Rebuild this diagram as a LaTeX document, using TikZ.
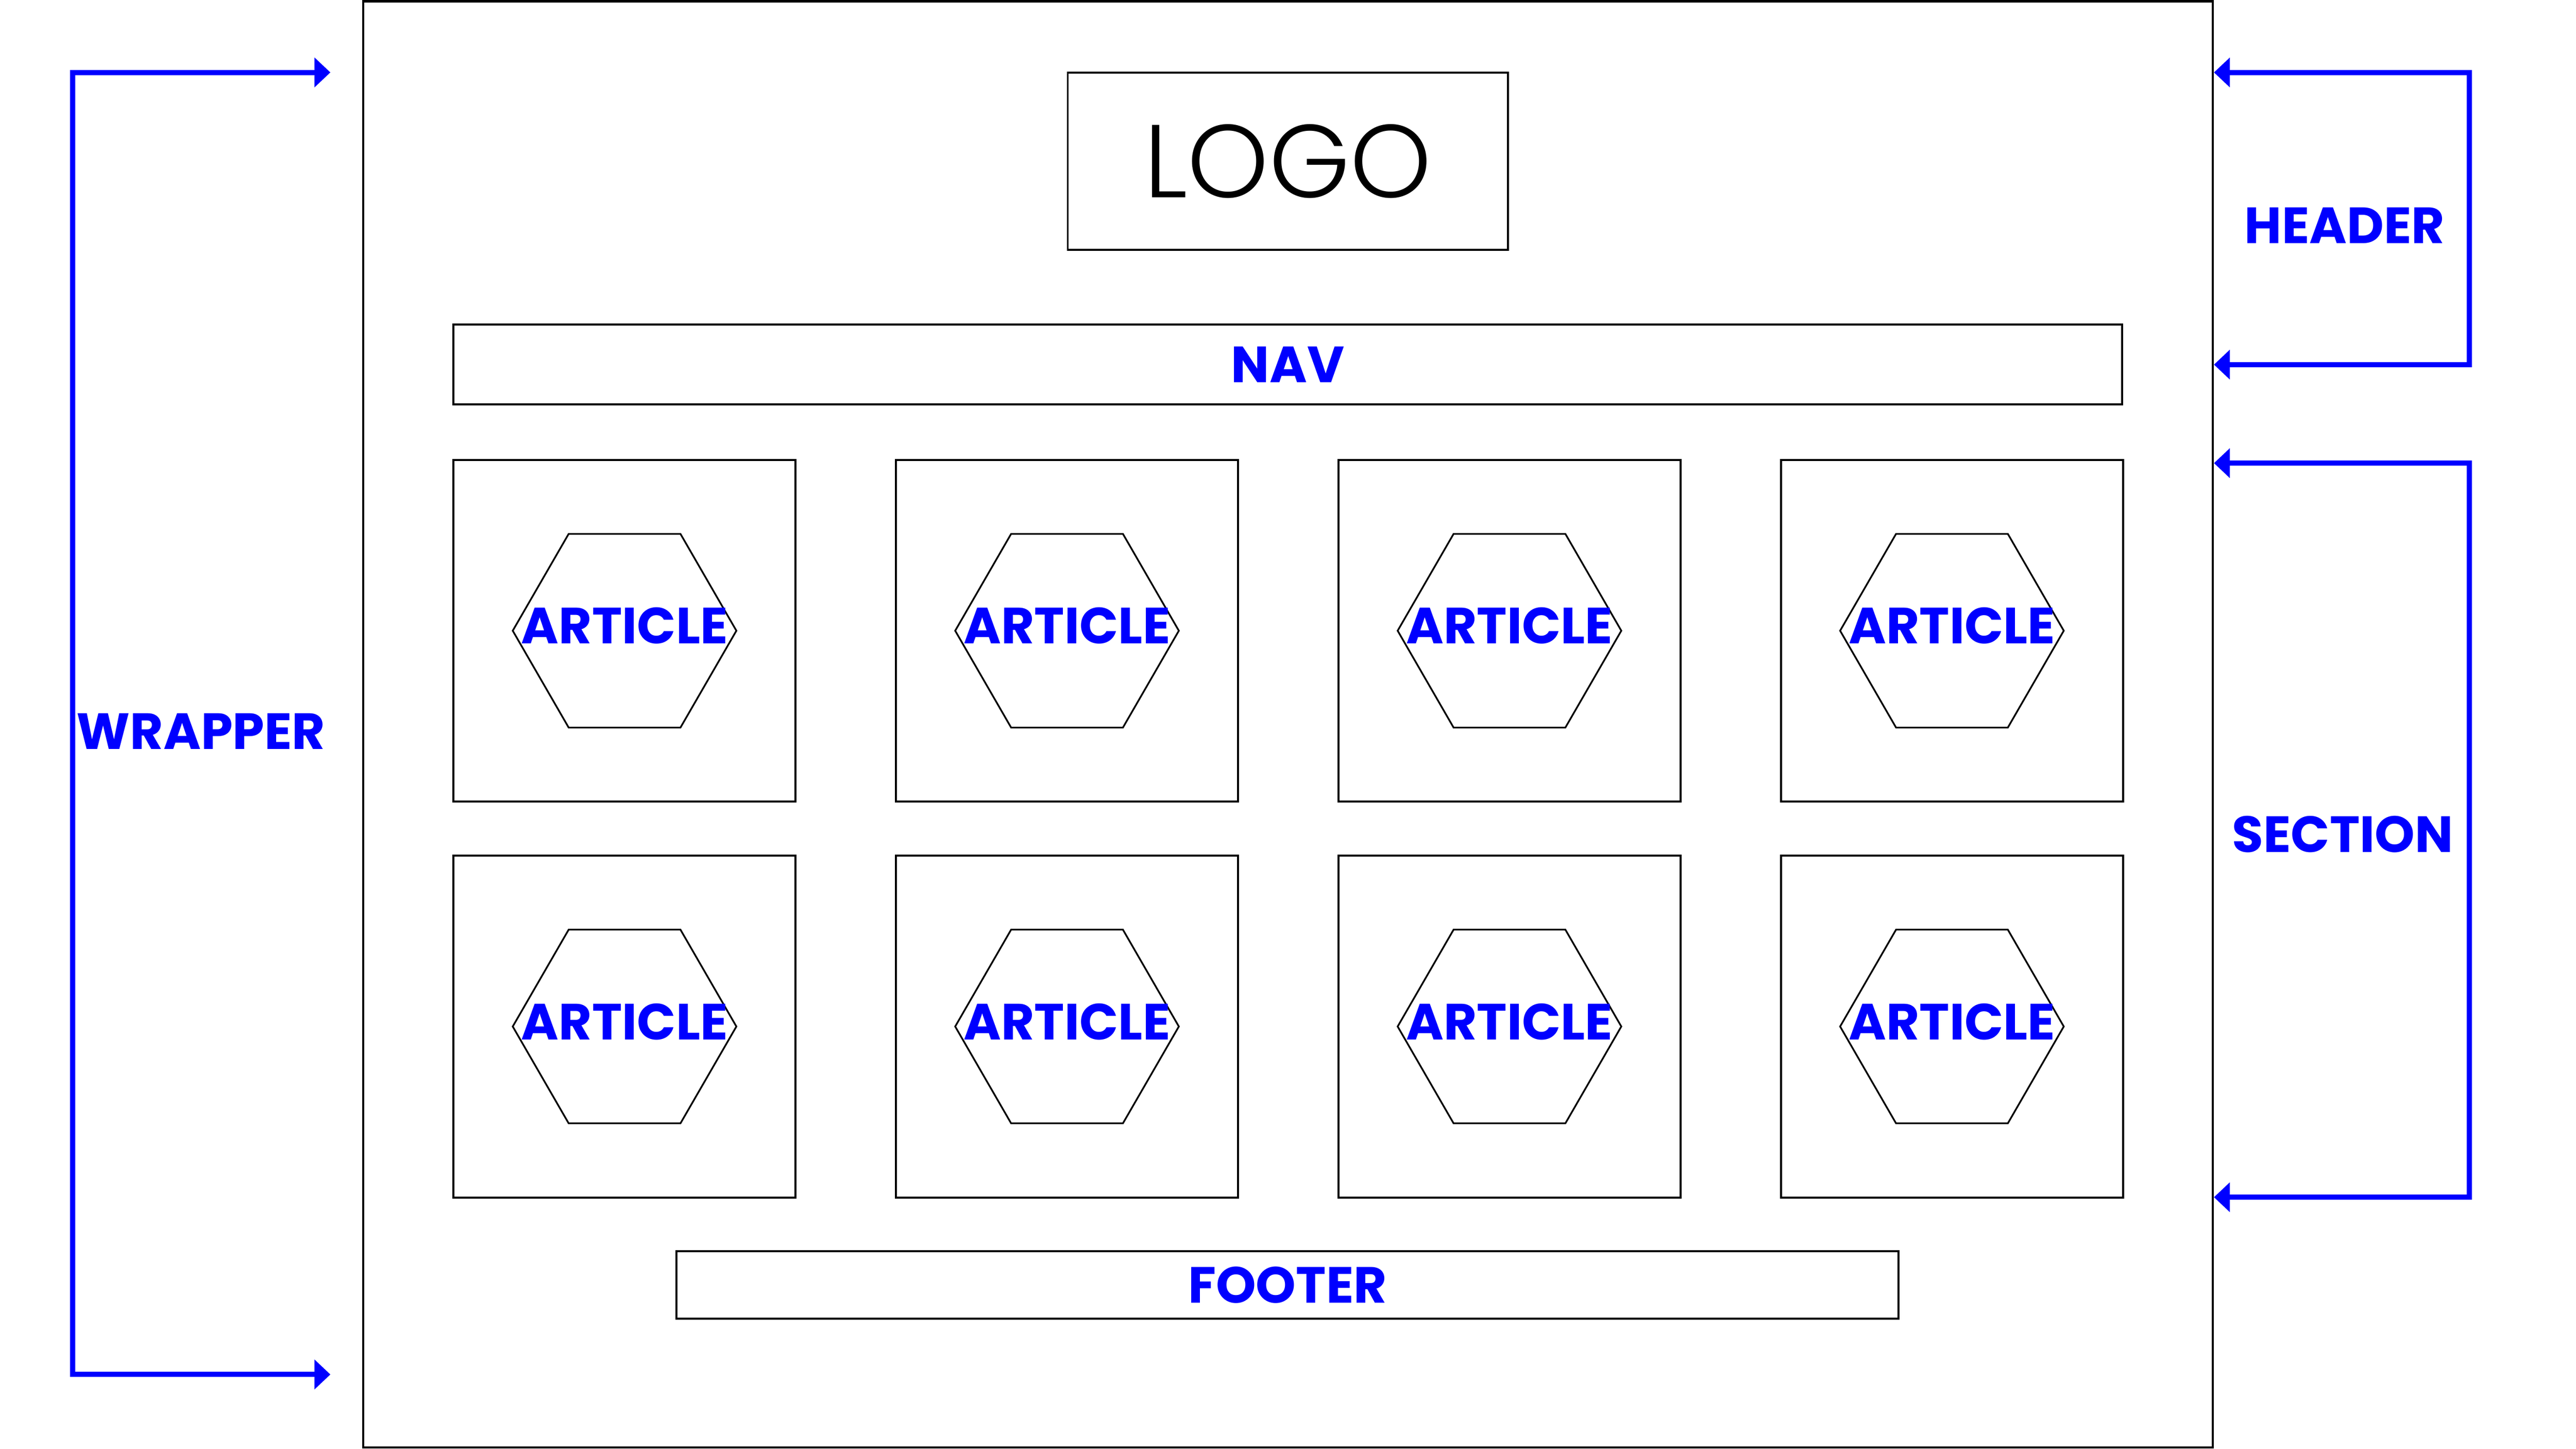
\documentclass[tikz,border=0pt]{standalone}
\usepackage{fontspec}
\usepackage{xcolor}
\usetikzlibrary{arrows.meta, shapes.geometric}
\newfontfamily\tagfont{Poppins}
\IfFontExistsTF{Poppins Light}
  {\newfontfamily\logofont{Poppins Light}}
  {\newfontfamily\logofont{Poppins}}
\definecolor{tag_blue}{HTML}{0000FF}

\begin{document}
\begin{tikzpicture}[y=-1cm, >={Triangle[length=0.33cm, width=0.6cm]},
    every node/.style={inner sep=0pt},
    tag/.style={font=\tagfont\bfseries\fontsize{30}{30}\selectfont, text=tag_blue},
    boxline/.style={draw, line width=1.2pt},
    hexa/.style={draw, line width=1pt, regular polygon, regular polygon sides=6, minimum size=4.63cm},
    bracket/.style={<->, line width=3pt, tag_blue}]

    \useasboundingbox (0,0) rectangle (53.33,30);

    % page frame
    \node[draw, line width=1.4pt, minimum width=38.29cm, minimum height=29.94cm] (wrapper) at (26.665,15) {};

    \node[boxline, minimum width=9.11cm, minimum height=3.67cm, font=\logofont\fontsize{61}{61}\selectfont] (logo) at (26.66,3.335) {LOGO};
    \node[boxline, tag, minimum width=34.55cm, minimum height=1.65cm] (nav) at (26.66,7.545) {NAV};
    \node[boxline, tag, minimum width=25.30cm, minimum height=1.39cm] (footer) at (26.655,26.605) {FOOTER};

    % two rows of articles
    \foreach \r/\y in {1/13.06, 2/21.255} {
      \foreach \c in {1,...,4} {
        \node[boxline, minimum size=7.08cm] (box-\r-\c) at ({12.93+9.16*(\c-1)},\y) {};
        \node[hexa] (hex-\r-\c) at (box-\r-\c) {};
        \node[tag, yshift=0.1cm] at (hex-\r-\c) {ARTICLE};
      }
    }

    % brackets
    \coordinate (wtop) at (6.84,1.5);
    \coordinate (wbot) at (6.84,28.46);
    \draw[bracket] (wtop) -- (1.5,1.5) -- (1.5,28.46) -- (wbot);
    \node[tag] (wlabel) at (4.16,15.14) {WRAPPER};

    \coordinate (htop) at (wrapper.east |- 0,1.5);
    \coordinate (hbot) at (wrapper.east |- 0,7.55);
    \draw[bracket] (htop) -- (51.12,1.5) -- (51.12,7.55) -- (hbot);
    \node[tag] (hlabel) at (48.54,4.67) {HEADER};

    \coordinate (stop) at (wrapper.east |- 0,9.59);
    \coordinate (sbot) at (wrapper.east |- 0,24.79);
    \draw[bracket] (stop) -- (51.12,9.59) -- (51.12,24.79) -- (sbot);
    \node[tag] (slabel) at (48.50,17.27) {SECTION};

  \end{tikzpicture}
\end{document}
